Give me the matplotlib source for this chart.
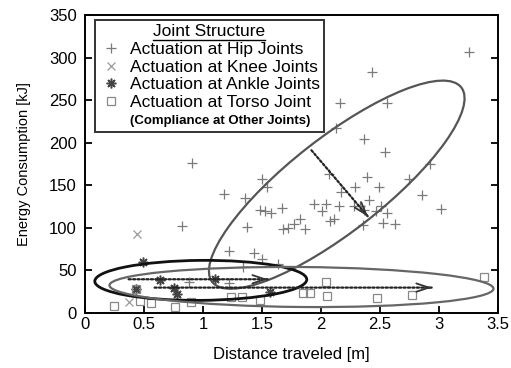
import matplotlib
matplotlib.use('Agg')
import matplotlib.pyplot as plt
from matplotlib.patches import Ellipse
from matplotlib.lines import Line2D
from matplotlib.transforms import ScaledTranslation

plt.rcParams['font.family'] = ['Liberation Sans', 'DejaVu Sans']

# distance [m], energy [kJ] per joint structure
hip_x = [2.43, 2.16, 2.56, 2.13, 2.37, 2.54, 2.93, 0.905, 1.50, 1.54, 2.07, 2.39, 2.75, 2.29, 2.49,
         1.18, 1.36, 2.17, 2.86, 2.41, 1.94, 2.04, 2.15, 2.28, 2.33, 2.51, 3.02, 1.48, 1.53, 1.575,
         1.67, 2.01, 2.37, 2.47, 2.56, 1.82, 1.77, 2.08, 2.11, 0.82, 1.37, 1.68, 1.72, 1.87, 2.36,
         2.53, 2.63, 1.22, 1.43, 1.50, 1.34, 1.64, 0.88, 1.22, 3.26]
hip_y = [283, 247, 246, 217, 204, 189, 175, 176, 157, 148, 163, 159, 157, 148, 148,
         140, 135, 142, 138, 133, 128, 128, 125, 125, 125, 126, 122, 121, 120, 117,
         123, 119, 121, 119, 117, 110, 104, 108, 110, 102, 101, 98, 99, 98, 103,
         105, 104, 73, 70, 63, 54, 57, 36, 35, 307]
knee_x = [0.44, 0.37]
knee_y = [93, 13]
ankle_x = [0.49, 0.636, 1.10, 0.43, 0.755, 0.78, 1.57]
ankle_y = [60, 39, 40, 27.5, 28.5, 22, 24]
torso_x = [0.25, 0.43, 0.47, 0.56, 0.76, 0.90, 1.24, 1.33, 1.48, 1.85, 1.91, 2.04, 2.05, 2.48, 2.77, 3.38]
torso_y = [8, 27.5, 14, 11, 7, 12, 19, 19, 15, 22.8, 22.8, 36, 20, 17, 21, 42]

labels = ['Actuation at Hip Joints', 'Actuation at Knee Joints',
          'Actuation at Ankle Joints', 'Actuation at Torso Joint']
note = '(Compliance at Other Joints)'

# group outlines: centre (data), width/height (px), angle, colour, lw
ellipses = [
    (2.135, 150.5, 316, 94, 38, '#555555', 1.6),
    (0.982, 38.0, 212, 40, 0.5, '#111111', 2.0),
    (1.836, 30.2, 384, 40, -0.5, '#666666', 1.6),
]
# dotted trend arrows (start, end) in data units
arrows = [
    ((1.92, 191), (2.40, 113)),
    ((0.37, 39.3), (1.55, 39.3)),
    ((0.59, 29.5), (2.94, 29.5)),
]

fig = plt.figure(figsize=(5.11, 3.68), dpi=100)
ax = fig.add_axes([0.1663, 0.1503, 0.8077, 0.8089])

h1, = ax.plot(hip_x, hip_y, ls='none', marker='+', ms=7, mew=0.9, color='#7a7a7a')
h2, = ax.plot(knee_x, knee_y, ls='none', marker='x', ms=6, mew=0.9, color='#9a9a9a')
h3, = ax.plot(ankle_x, ankle_y, ls='none', marker=(8, 2, 0), ms=7, mew=1.1, color='#444444')
h4, = ax.plot(torso_x, torso_y, ls='none', marker='s', ms=6, mew=0.9, mfc='none', color='#888888')

for cx, cy, w, h, ang, col, lw in ellipses:
    tr = fig.dpi_scale_trans + ScaledTranslation(cx, cy, ax.transData)
    ax.add_patch(Ellipse((0, 0), w / 100, h / 100, angle=ang, transform=tr,
                         fill=False, edgecolor=col, lw=lw, zorder=3))

for (x0, y0), (x1, y1) in arrows:
    ax.annotate('', xy=(x1, y1), xytext=(x0, y0),
                arrowprops=dict(arrowstyle='-', ls=(0, (1, 1)), lw=1.6, color='#222222',
                                shrinkA=0, shrinkB=0))
    tail = (x1 - 0.01 * (x1 - x0), y1 - 0.01 * (y1 - y0))
    ax.annotate('', xy=(x1, y1), xytext=tail,
                arrowprops=dict(arrowstyle='->,head_length=0.9,head_width=0.3', lw=1.3,
                                color='#333333', shrinkA=0, shrinkB=0, mutation_scale=10))

ax.set_xlim(0, 3.5)
ax.set_ylim(0, 350)
ax.set_xticks([0, 0.5, 1, 1.5, 2, 2.5, 3, 3.5])
ax.set_xticklabels(['0', '0.5', '1', '1.5', '2', '2.5', '3', '3.5'])
ax.set_yticks(range(0, 351, 50))
ax.tick_params(direction='in', length=5, width=1.3, labelsize=12, right=True)
ax.tick_params(axis='x', pad=3)
ax.tick_params(axis='y', pad=6)
for s in ax.spines.values():
    s.set_linewidth(1.4)
ax.set_xlabel('Distance traveled [m]', fontsize=12, labelpad=11)
ax.set_ylabel('Energy Consumption [kJ]', fontsize=10.5, labelpad=13)

blank = Line2D([], [], ls='none')
leg = ax.legend([h1, h2, h3, h4, blank], labels + [note], title='Joint Structure',
                loc='upper left', bbox_to_anchor=(0.024, 0.983), borderaxespad=0,
                fontsize=12.5, title_fontsize=12.5, frameon=True, fancybox=False,
                borderpad=0.25, handlelength=1.4, handletextpad=0.35, labelspacing=0.14)
leg.get_frame().set_edgecolor('black')
leg.get_frame().set_linewidth(1.4)
leg.get_texts()[4].set_fontsize(9.5)
leg.get_texts()[4].set_fontweight('bold')

# underline the legend title
fig.canvas.draw()
bb = leg.get_title().get_window_extent()
inv = fig.transFigure.inverted()
(ux0, uy), (ux1, _) = inv.transform([(bb.x0, bb.y0 - 1), (bb.x1, bb.y0 - 1)])
fig.add_artist(Line2D([ux0, ux1], [uy, uy], transform=fig.transFigure, color='black', lw=1))

fig.savefig('out.png', dpi=100)
